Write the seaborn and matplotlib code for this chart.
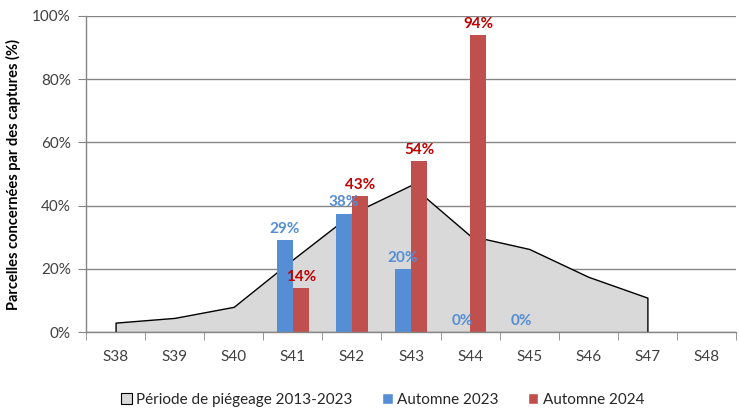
import numpy as np
import pandas as pd
import matplotlib
matplotlib.use("Agg")
import matplotlib.pyplot as plt
from matplotlib.patches import Patch
from matplotlib.ticker import PercentFormatter
import seaborn as sns

# Data
weeks = ["S38", "S39", "S40", "S41", "S42", "S43", "S44", "S45", "S46", "S47", "S48"]
periode_2013_2023 = [3, 4.5, 8, 23, 37.5, 46.5, 30.5, 26.3, 17.5, 10.9, np.nan]
automne_2023 = [np.nan, np.nan, np.nan, 29, 37.5, 20, 0, 0, np.nan, np.nan, np.nan]
automne_2024 = [np.nan, np.nan, np.nan, 14, 43, 54, 94, np.nan, np.nan, np.nan, np.nan]

blue = "#558ED5"
red = "#C0504D"
grey = "#868686"

sns.set_style("white")
plt.rcParams["font.family"] = ["Lato", "DejaVu Sans"]

df = pd.DataFrame({
    "semaine": weeks * 2,
    "valeur": automne_2023 + automne_2024,
    "serie": ["Automne 2023"] * len(weeks) + ["Automne 2024"] * len(weeks),
}).dropna()

fig = plt.figure(figsize=(7.39, 4.09), dpi=100)
ax = fig.add_axes([0.1164, 0.188, 0.8796, 0.773])

# background area: trapping period 2013-2023
x = np.arange(len(weeks))
ax.fill_between(x, periode_2013_2023, 0, facecolor="#D9D9D9", edgecolor="black",
                linewidth=1, zorder=1.5)

sns.barplot(data=df, x="semaine", y="valeur", hue="serie", order=weeks,
            hue_order=["Automne 2023", "Automne 2024"], palette=[blue, red],
            width=0.55, saturation=1, legend=False, ax=ax, zorder=2,
            edgecolor="none", linewidth=0)

label_colors = [blue, "#C00000"]
for cont, c in zip(ax.containers, label_colors):
    ax.bar_label(cont, fmt="%.0f%%", padding=3, color=c, fontweight="bold", fontsize=11)

ax.set_xlim(-0.5, len(weeks) - 0.5)
ax.set_ylim(0, 100)
ax.set_yticks(np.arange(0, 101, 20))
ax.yaxis.set_major_formatter(PercentFormatter(decimals=0))
ax.set_xticks(x)
ax.set_xticklabels(weeks)
ax.set_xticks(np.arange(-0.5, len(weeks), 1), minor=True)
ax.tick_params(axis="x", which="major", length=0, pad=13, labelsize=11, colors="#404040")
ax.tick_params(axis="x", which="minor", length=6, direction="out", color=grey, bottom=True)
ax.tick_params(axis="y", length=6, direction="out", color=grey, left=True,
               labelsize=11, labelcolor="#404040", pad=5)
ax.set_axisbelow(True)
ax.grid(axis="y", color=grey, linewidth=1)
ax.grid(axis="x", visible=False)
for s in ["top", "right"]:
    ax.spines[s].set_visible(False)
for s in ["left", "bottom"]:
    ax.spines[s].set_color(grey)
    ax.spines[s].set_linewidth(1)

ax.set_xlabel("")
ax.set_ylabel("Parcelles concernées par des captures (%)", fontweight="bold",
              fontsize=10.5, color="black", labelpad=8)

handles = [
    Patch(facecolor="#D9D9D9", edgecolor="black", linewidth=0.8, label="Période de piégeage 2013-2023"),
    Patch(facecolor=blue, label="Automne 2023"),
    Patch(facecolor=red, label="Automne 2024"),
]
fig.legend(handles=handles, loc="center", bbox_to_anchor=(0.518, 0.022), ncol=3,
           frameon=False, fontsize=11, handlelength=0.7, handleheight=0.7,
           handletextpad=0.3, columnspacing=1.9)

fig.savefig("out.png", dpi=100)
